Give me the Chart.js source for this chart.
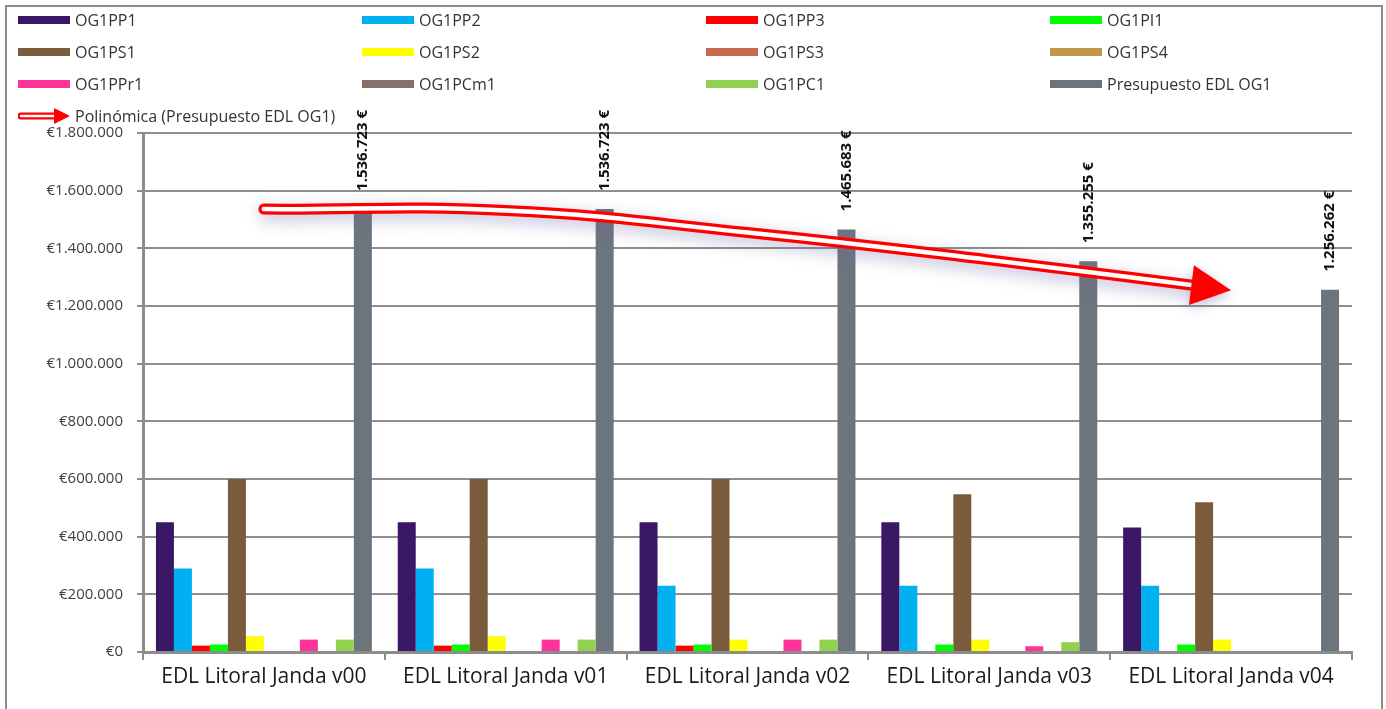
<!DOCTYPE html>
<html>
<head>
<meta charset="utf-8">
<script src="https://cdn.jsdelivr.net/npm/chart.js@4.4.1/dist/chart.umd.min.js"></script>
<style>
  html, body { margin: 0; padding: 0; background: #fff; }
  body { width: 1386px; height: 709px; position: relative; overflow: hidden; font-family: "Open Sans", sans-serif; }
  #frame { position: absolute; left: 5px; top: 5px; width: 1378px; height: 720px; border: 2px solid #8c8c8c; box-sizing: border-box; }
  #chart { position: absolute; left: 0; top: 0; }
  #legend { position: absolute; left: 0; top: 0; width: 1386px; height: 130px; z-index: 2; }
  .item { position: absolute; height: 20px; display: flex; align-items: center; font-size: 16px; color: #333; white-space: nowrap; }
  .sw { width: 52px; height: 8px; margin-right: 5px; }
  .arrow { width: 52px; height: 20px; margin-right: 5px; }
</style>
</head>
<body>
<div id="frame"></div>
<canvas id="chart" width="1386" height="709"></canvas>
<div id="legend"></div>
<script>
// ==========================================
// DATOS
// ==========================================
const categories = ['EDL Litoral Janda v00', 'EDL Litoral Janda v01', 'EDL Litoral Janda v02', 'EDL Litoral Janda v03', 'EDL Litoral Janda v04'];

const seriesNames = ['OG1PP1', 'OG1PP2', 'OG1PP3', 'OG1PI1', 'OG1PS1', 'OG1PS2', 'OG1PS3', 'OG1PS4', 'OG1PPr1', 'OG1PCm1', 'OG1PC1', 'Presupuesto EDL OG1'];
const seriesColors = ['#3b1866', '#00b0f0', '#ff0000', '#00ff00', '#7a5c3d', '#ffff00', '#c76a50', '#c09649', '#ff3399', '#86716a', '#92d050', '#6d757c'];

const og1pp1 = [450000, 450000, 450000, 450000, 432000];
const og1pp2 = [290000, 290000, 230000, 230000, 230000];
const og1pp3 = [22000, 22000, 22000, 0, 0];
const og1pi1 = [26000, 26000, 26000, 26000, 26000];
const og1ps1 = [600000, 600000, 600000, 547000, 519000];
const og1ps2 = [55000, 55000, 43000, 43000, 43000];
const og1ps3 = [0, 0, 0, 0, 0];
const og1ps4 = [0, 0, 0, 0, 0];
const og1ppr1 = [43000, 43000, 43000, 20000, 0];
const og1pcm1 = [0, 0, 0, 0, 0];
const og1pc1 = [43000, 43000, 43000, 34000, 0];
const presupuesto = [1536723, 1536723, 1465683, 1355255, 1256262];

// línea de tendencia polinómica
const polinomica = [1536000, 1531000, 1455000, 1360000, 1255000];
const trendName = 'Polinómica (Presupuesto EDL OG1)';

const yTicks = [0, 200000, 400000, 600000, 800000, 1000000, 1200000, 1400000, 1600000, 1800000];

const seriesData = [og1pp1, og1pp2, og1pp3, og1pi1, og1ps1, og1ps2, og1ps3, og1ps4, og1ppr1, og1pcm1, og1pc1, presupuesto];

function miles(v) {
    return String(Math.round(v)).replace(/\B(?=(\d{3})+(?!\d))/g, '.');
}

// ==========================================
// LEYENDA (4 columnas)
// ==========================================
const legendEl = document.getElementById('legend');
const legendItems = seriesNames.map((n, i) => ({ name: n, color: seriesColors[i] }));
legendItems.push({ name: trendName, trend: true });
legendItems.forEach((it, i) => {
    const col = i % 4, row = Math.floor(i / 4);
    const div = document.createElement('div');
    div.className = 'item';
    div.style.left = (18 + col * 344) + 'px';
    div.style.top = (10 + row * 32) + 'px';
    if (it.trend) {
        div.innerHTML = '<svg class="arrow" viewBox="0 0 52 20"><line x1="3" y1="10" x2="38" y2="10" stroke="#ff0000" stroke-width="7" stroke-linecap="round"/><line x1="3" y1="10" x2="38" y2="10" stroke="#fff" stroke-width="2.5" stroke-linecap="round"/><polygon points="36,2 52,10 36,18" fill="#ff0000"/></svg>';
    } else {
        div.innerHTML = '<div class="sw" style="background:' + it.color + '"></div>';
    }
    const span = document.createElement('span');
    span.textContent = it.name;
    div.appendChild(span);
    legendEl.appendChild(div);
});

// ==========================================
// PLUGINS
// ==========================================
const trendIndex = 12;
const coreIndex = 13;
const presIndex = 11;
const ARROW_L = 40, ARROW_W = 20;

// dirección de la punta: desde el punto de control anterior hasta el último punto
function arrowGeom(chart) {
    const meta = chart.getDatasetMeta(trendIndex);
    if (meta.dataset && meta.dataset.updateControlPoints) meta.dataset.updateControlPoints(chart.chartArea, 'x');
    const pts = meta.data;
    const last = pts[pts.length - 1];
    const prev = pts[pts.length - 2];
    let dx = last.x - (last.cp1x !== undefined ? last.cp1x : prev.x);
    let dy = last.y - (last.cp1y !== undefined ? last.cp1y : prev.y);
    const len = Math.hypot(dx, dy) || 1;
    dx /= len; dy /= len;
    return { tx: last.x, ty: last.y, dx, dy, bx: last.x - dx * ARROW_L, by: last.y - dy * ARROW_L };
}

const glowPlugin = {
    id: 'glow',
    beforeDatasetDraw(chart, args) {
        if (args.index === trendIndex || args.index === coreIndex) {
            const c = chart.ctx;
            const g = arrowGeom(chart);
            c.save();
            // recorta la línea donde empieza la punta de flecha
            const px = -g.dy, py = g.dx;
            const bx = g.bx + g.dx * 2, by = g.by + g.dy * 2;
            c.beginPath();
            c.moveTo(bx + px * 3000, by + py * 3000);
            c.lineTo(bx - px * 3000, by - py * 3000);
            c.lineTo(bx - px * 3000 - g.dx * 4000, by - py * 3000 - g.dy * 4000);
            c.lineTo(bx + px * 3000 - g.dx * 4000, by + py * 3000 - g.dy * 4000);
            c.closePath();
            c.clip();
            if (args.index === trendIndex) {
                c.shadowColor = 'rgba(110, 100, 160, 0.45)';
                c.shadowBlur = 16;
                c.shadowOffsetY = 5;
            }
        }
    },
    afterDatasetDraw(chart, args) {
        if (args.index === trendIndex || args.index === coreIndex) chart.ctx.restore();
    }
};

const arrowLabelPlugin = {
    id: 'arrowLabel',
    afterDatasetsDraw(chart) {
        const c = chart.ctx;
        const g = arrowGeom(chart);
        c.save();
        c.shadowColor = 'rgba(110, 100, 160, 0.4)';
        c.shadowBlur = 12;
        c.shadowOffsetY = 4;
        c.fillStyle = '#ff0000';
        c.beginPath();
        c.moveTo(g.tx, g.ty);
        c.lineTo(g.bx - g.dy * ARROW_W, g.by + g.dx * ARROW_W);
        c.lineTo(g.bx + g.dy * ARROW_W, g.by - g.dx * ARROW_W);
        c.closePath();
        c.fill();
        c.restore();

        // etiquetas de presupuesto
        const bars = chart.getDatasetMeta(presIndex).data;
        c.save();
        c.fillStyle = '#111';
        c.font = 'bold 15px "Open Sans"';
        c.textAlign = 'left';
        c.textBaseline = 'middle';
        bars.forEach((b, i) => {
            c.save();
            c.translate(b.x, b.y - 18);
            c.rotate(-Math.PI / 2);
            c.fillText(miles(presupuesto[i]) + ' €', 0, 0);
            c.restore();
        });
        c.restore();
    }
};

// ==========================================
// GRÁFICO
// ==========================================
const datasets = seriesNames.map((n, i) => ({
    type: 'bar',
    label: n,
    data: seriesData[i],
    backgroundColor: seriesColors[i],
    borderWidth: 0,
    categoryPercentage: 0.893,
    barPercentage: 1,
    order: 2
}));

datasets.push({
    type: 'line',
    label: trendName,
    data: polinomica,
    borderColor: '#ff0000',
    borderWidth: 11,
    borderCapStyle: 'round',
    pointRadius: 0,
    tension: 0.45,
    fill: false,
    order: 1
});
datasets.push({
    type: 'line',
    label: trendName + ' core',
    data: polinomica,
    borderColor: '#ffffff',
    borderWidth: 4.5,
    borderCapStyle: 'round',
    pointRadius: 0,
    tension: 0.45,
    fill: false,
    order: 0
});

new Chart(document.getElementById('chart'), {
    type: 'bar',
    data: { labels: categories, datasets: datasets },
    options: {
        responsive: false,
        animation: false,
        layout: { padding: { top: 133, right: 34, left: 0, bottom: 0 } },
        plugins: { legend: { display: false }, tooltip: { enabled: false } },
        scales: {
            x: {
                offset: true,
                grid: { offset: true, drawOnChartArea: false, drawTicks: true, tickLength: 8, color: '#8c8c8c', lineWidth: 2 },
                border: { display: true, color: '#8c8c8c', width: 3 },
                ticks: { color: '#1a1a1a', font: { family: 'Open Sans', size: 21 }, padding: 4, maxRotation: 0 },
                afterFit(scale) { scale.height = 57; }
            },
            y: {
                min: 0,
                max: 1800000,
                afterBuildTicks(scale) { scale.ticks = yTicks.map(v => ({ value: v })); },
                grid: { color: '#8e8e8e', lineWidth: 2, tickLength: 6 },
                border: { display: true, color: '#8c8c8c', width: 3 },
                ticks: { color: '#404040', font: { family: 'Open Sans', size: 15 }, padding: 14, callback: v => '€' + miles(v) },
                afterFit(scale) { scale.width = 143; }
            }
        }
    },
    plugins: [glowPlugin, arrowLabelPlugin]
});
</script>
</body>
</html>
